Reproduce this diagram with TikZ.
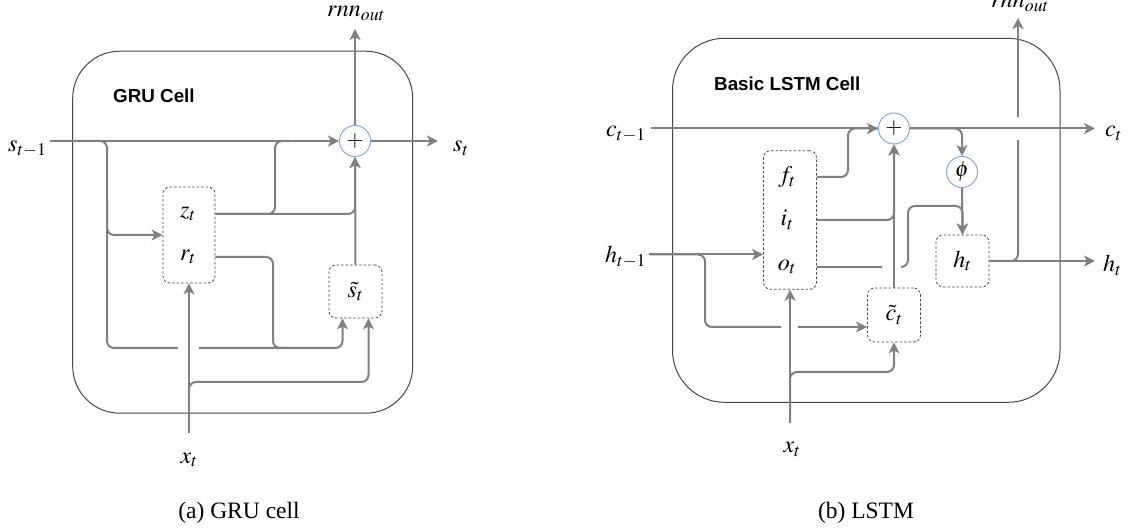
\documentclass[tikz,border=0pt]{standalone}
\usepackage{mathptmx}
\usepackage[no-math]{fontspec}
\setmainfont{Liberation Serif}
\newfontfamily\cellfont{Liberation Sans}
\usetikzlibrary{arrows.meta}
\definecolor{linegray}{RGB}{128,128,128}
\definecolor{circblue}{RGB}{140,168,212}
\definecolor{boxgray}{RGB}{70,70,70}
\begin{document}
\begin{tikzpicture}[x=1pt,y=-1pt,
  conn/.style={draw=linegray,line width=2pt,rounded corners=7pt},
  withtip/.style={-{Stealth[length=11pt,width=11pt,inset=3pt]}},
  gate/.style={draw=boxgray,line width=0.8pt,dash pattern=on 2.5pt off 2pt,rounded corners=7pt,fill=white,inner sep=0pt,font=\fontsize{24}{28}\selectfont},
  opnode/.style={circle,draw=circblue,line width=1pt,fill=white,minimum size=31pt,inner sep=0pt,font=\fontsize{22}{26}\selectfont},
  cellbox/.style={draw=boxgray,line width=1pt,inner sep=0pt},
  lbl/.style={inner sep=0pt,font=\fontsize{24}{28}\selectfont},
  ttl/.style={inner sep=0pt,font=\cellfont\bfseries\fontsize{18.8}{22}\selectfont,anchor=base west},
  captxt/.style={inner sep=0pt,font=\fontsize{23.5}{28}\selectfont,anchor=base}]
\useasboundingbox (0,0) rectangle (1128,529);

% ---------------- GRU ----------------
\node[cellbox,rounded corners=47pt,minimum width=340pt,minimum height=362pt] (gru) at (242.7,232.2) {};
\node[ttl] (gruT) at (113,102.7) {GRU Cell};
\node[opnode] (pa) at (355,141) {$+$};
\node[gate,minimum width=52pt,minimum height=96pt] (zr) at (189,235) {};
\node[lbl] (zt) at (188,214) {$z_t$};
\node[lbl] (rt) at (188,257) {$r_t$};
\node[gate,minimum width=53pt,minimum height=53pt] (st) at (355.5,291.5) {$\tilde{s}_t$};
\node[lbl,anchor=base west] (sin) at (8,152) {$s_{t-1}$};
\node[lbl,anchor=base west] (sout) at (453,152) {$s_t$};
\node[lbl,anchor=base] (rnnA) at (356,17) {$rnn_{out}$};
\node[lbl,anchor=base] (xa) at (189,463) {$x_t$};
\node[captxt] (capa) at (239,518) {(a) GRU cell};

\coordinate (a0) at (50,141);
\coordinate (a1) at (438,141);
\coordinate (a2) at (355,29);
\coordinate (ab0) at (107,200);
\coordinate (ab) at (107,348);
\coordinate (ag1) at (178,348);
\coordinate (ag2) at (199,348);
\coordinate (ar) at (273,348);
\coordinate (az) at (275,141);
\coordinate (ax) at (189,433);
\coordinate (axb) at (189,382);

\draw[conn,withtip] (a0) -- (pa.west);
\draw[conn,withtip] (pa.east) -- (a1);
\draw[conn,withtip] (pa.north) -- (a2);
\draw[conn] (a0) -| (ab) -- (ag1);
\draw[conn,withtip] (ab0) |- (zr.west);
\draw[conn,withtip] (ag2) -| ([xshift=-13pt]st.south);
\draw[conn] (zr.east |- rt) -| (ar) -- ++(15,0);
\draw[conn,withtip] (zr.east |- zt) -| (pa.south);
\draw[conn] (zr.east |- zt) -| (az) -- ++(15,0);
\draw[conn,withtip] (st.north) -- (pa.south);
\draw[conn,withtip] (ax) -- (zr.south);
\draw[conn,withtip] (ax) -- (axb) -| ([xshift=13pt]st.south);

% ---------------- LSTM ----------------
\node[cellbox,rounded corners=52pt,minimum width=387.5pt,minimum height=364pt] (lstm) at (866.25,220.3) {};
\node[ttl] (lstmT) at (714,90.7) {Basic LSTM Cell};
\node[opnode] (pb) at (894,128.5) {$+$};
\node[opnode] (phi) at (962,172) {$\phi$};
\node[gate,minimum width=53pt,minimum height=138.6pt] (fio) at (790,220) {};
\node[lbl] (ft) at (787,177) {$f_t$};
\node[lbl] (it) at (787,220) {$i_t$};
\node[lbl] (ot) at (787,267) {$o_t$};
\node[gate,minimum width=53pt,minimum height=52pt] (hb) at (962.5,261) {$h_t$};
\node[gate,minimum width=53pt,minimum height=54pt] (ct) at (894,315) {$\tilde{c}_t$};
\node[lbl,anchor=base west] (cin) at (606,137) {$c_{t-1}$};
\node[lbl,anchor=base west] (cout) at (1105,137) {$c_t$};
\node[lbl,anchor=base west] (hin) at (605,263) {$h_{t-1}$};
\node[lbl,anchor=base west] (hout) at (1103,272) {$h_t$};
\node[lbl,anchor=base] (rnnB) at (1020,8) {$rnn_{out}$};
\node[lbl,anchor=base] (xb) at (792,453) {$x_t$};
\node[captxt] (capb) at (866,518) {(b) LSTM};

\coordinate (b0) at (651,128.5);
\coordinate (b1) at (1095,128.5);
\coordinate (bf) at (848,128.5);
\coordinate (bo1) at (882,267);
\coordinate (bo2) at (901,267);
\coordinate (bo3) at (908,206);
\coordinate (h0) at (649,254.5);
\coordinate (hb1) at (705,327);
\coordinate (hg1) at (781,327);
\coordinate (hg2) at (798,327);
\coordinate (bx) at (790,423);
\coordinate (bxb) at (790,372);
\coordinate (h1) at (1095,261);
\coordinate (rg1) at (1018,140);
\coordinate (rg2) at (1018,117);
\coordinate (rtop) at (1018,18);

\draw[conn,withtip] (b0) -- (pb.west);
\draw[conn,withtip] (pb.east) -- (b1);
\draw[conn,withtip] (pb.east) -| (phi.north);
\draw[conn,withtip] (phi.south) -- (hb.north);
\draw[conn] (fio.east |- ft) -| (bf) -- (pb.west);
\draw[conn,withtip] (fio.east |- it) -| (pb.south);
\draw[conn,withtip] (ct.north) -- (pb.south);
\draw[conn] (fio.east |- ot) -- (bo1);
\draw[conn,withtip] (bo2) -| (bo3) -| (hb.north);
\draw[conn,withtip] (h0) -- (fio.west |- h0);
\draw[conn] (h0) -| (hb1) -- (hg1);
\draw[conn,withtip] (hg2) -- (ct.west |- hg2);
\draw[conn,withtip] (bx) -- (fio.south);
\draw[conn,withtip] (bx) -- (bxb) -| (ct.south);
\draw[conn,withtip] (hb.east) -- (h1);
\draw[conn] (hb.east) -| (rg1);
\draw[conn,withtip] (rg2) -- (rtop);
\end{tikzpicture}
\end{document}
